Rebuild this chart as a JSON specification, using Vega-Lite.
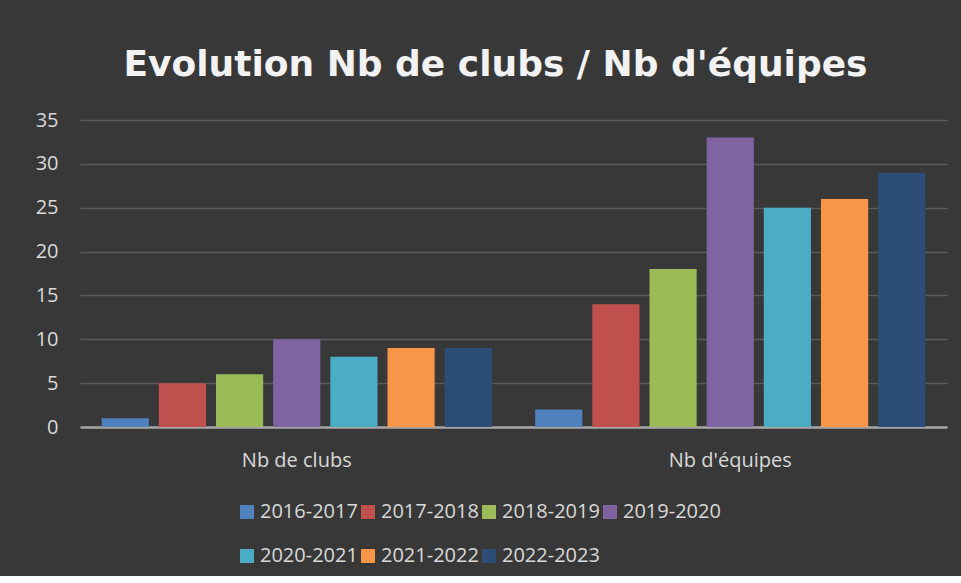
{
  "$schema": "https://vega.github.io/schema/vega-lite/v6.json",
  "width": 867,
  "height": 307,
  "autosize": {"type": "pad"},
  "padding": {"left": 35, "top": 47, "right": 14, "bottom": 10},
  "background": "#383838",
  "title": {
    "text": "Evolution Nb de clubs / Nb d'équipes",
    "font": "DejaVu Sans",
    "fontSize": 36,
    "fontWeight": "bold",
    "color": "#f2f2f2",
    "anchor": "middle",
    "offset": 26,
    "dx": -18
  },
  "data": {
    "values": [
      {"cat": "Nb de clubs", "season": "2016-2017", "value": 1},
      {"cat": "Nb de clubs", "season": "2017-2018", "value": 5},
      {"cat": "Nb de clubs", "season": "2018-2019", "value": 6},
      {"cat": "Nb de clubs", "season": "2019-2020", "value": 10},
      {"cat": "Nb de clubs", "season": "2020-2021", "value": 8},
      {"cat": "Nb de clubs", "season": "2021-2022", "value": 9},
      {"cat": "Nb de clubs", "season": "2022-2023", "value": 9},
      {"cat": "Nb d'équipes", "season": "2016-2017", "value": 2},
      {"cat": "Nb d'équipes", "season": "2017-2018", "value": 14},
      {"cat": "Nb d'équipes", "season": "2018-2019", "value": 18},
      {"cat": "Nb d'équipes", "season": "2019-2020", "value": 33},
      {"cat": "Nb d'équipes", "season": "2020-2021", "value": 25},
      {"cat": "Nb d'équipes", "season": "2021-2022", "value": 26},
      {"cat": "Nb d'équipes", "season": "2022-2023", "value": 29}
    ]
  },
  "mark": {"type": "bar"},
  "encoding": {
    "x": {
      "field": "cat",
      "type": "nominal",
      "sort": ["Nb de clubs", "Nb d'équipes"],
      "scale": {"paddingInner": 0.1, "paddingOuter": 0.05},
      "axis": {
        "title": null,
        "labelAngle": 0,
        "labelFont": "Open Sans",
        "labelFontSize": 20,
        "labelColor": "#d9d9d9",
        "labelPadding": 23,
        "ticks": false,
        "domainColor": "#a6a6a6",
        "domainWidth": 2.5,
        "grid": false
      }
    },
    "xOffset": {
      "field": "season",
      "type": "nominal",
      "scale": {"paddingInner": 0.175, "paddingOuter": 0}
    },
    "y": {
      "field": "value",
      "type": "quantitative",
      "scale": {"domain": [0, 35], "nice": false},
      "axis": {
        "title": null,
        "values": [0, 5, 10, 15, 20, 25, 30, 35],
        "labelFont": "Open Sans",
        "labelFontSize": 20,
        "labelColor": "#d9d9d9",
        "labelPadding": 22,
        "ticks": false,
        "domain": false,
        "gridColor": "#5a5a5a",
        "gridWidth": 1.5
      }
    },
    "color": {
      "field": "season",
      "type": "nominal",
      "scale": {
        "domain": ["2016-2017", "2017-2018", "2018-2019", "2019-2020", "2020-2021", "2021-2022", "2022-2023"],
        "range": ["#4f81bd", "#c0504d", "#9bbb59", "#8064a2", "#4bacc6", "#f79646", "#2c4d75"]
      },
      "legend": {
        "title": null,
        "orient": "none",
        "legendX": 157,
        "legendY": 382,
        "direction": "horizontal",
        "columns": 4,
        "symbolType": "square",
        "symbolSize": 196,
        "symbolStrokeWidth": 0,
        "labelFont": "Open Sans",
        "labelFontSize": 20,
        "labelColor": "#d9d9d9",
        "labelOffset": 3,
        "columnPadding": 0,
        "rowPadding": 24
      }
    }
  },
  "config": {
    "view": {"stroke": null}
  }
}
